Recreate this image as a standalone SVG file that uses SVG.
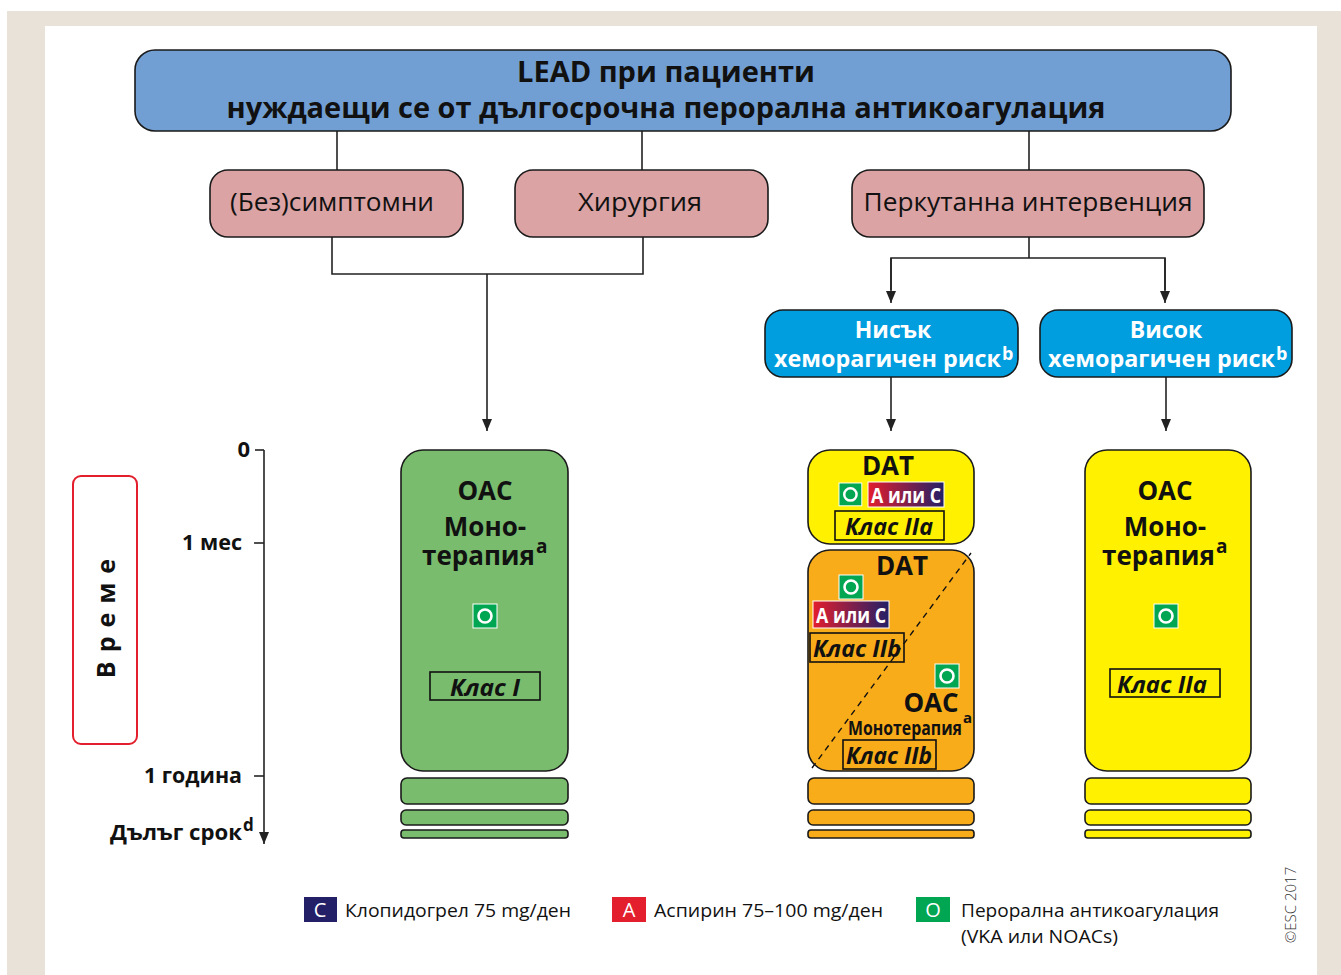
<svg xmlns="http://www.w3.org/2000/svg" width="1341" height="975" viewBox="0 0 1341 975">
<defs>
<style>
.t{font-family:"Open Sans","Liberation Sans",sans-serif;}
.b{font-weight:bold;}
.box{stroke:#1a1a1a;stroke-width:1.6;}
.ln{stroke:#222;stroke-width:1.6;fill:none;}
.cls{fill:none;stroke:#111;stroke-width:1.6;}
.ci{font-family:"Open Sans","Liberation Sans",sans-serif;font-weight:bold;font-style:italic;font-size:24px;}
.lg{font-family:"Open Sans","Liberation Sans",sans-serif;font-size:19px;fill:#111;}
</style>
<marker id="ar" viewBox="0 0 12 10" refX="12" refY="5" markerWidth="12" markerHeight="10" markerUnits="userSpaceOnUse" orient="auto">
<path d="M0,0 L12,5 L0,10 Z" fill="#222"/>
</marker>
<linearGradient id="ac" x1="0" x2="1" y1="0" y2="0">
<stop offset="0" stop-color="#E31E2D"/>
<stop offset="1" stop-color="#232067"/>
</linearGradient>
<g id="oicon">
<rect x="0" y="0" width="24" height="24" fill="#00A651" stroke="#fff" stroke-width="1"/>
<circle cx="12" cy="12" r="6.5" fill="none" stroke="#fff" stroke-width="2.6"/>
</g>
</defs>
<rect x="0" y="0" width="1341" height="975" fill="#fff"/>
<rect x="7" y="11" width="1334" height="964" fill="#E8E2D8"/>
<rect x="45" y="26" width="1272" height="949" fill="#fff"/>

<g id="connectors">
<line class="ln" x1="337" y1="131" x2="337" y2="170"/>
<line class="ln" x1="642" y1="131" x2="642" y2="170"/>
<line class="ln" x1="1029" y1="131" x2="1029" y2="170"/>
<polyline class="ln" points="332,237 332,274 643,274 643,237"/>
<line class="ln" x1="487" y1="274" x2="487" y2="431" marker-end="url(#ar)"/>
<line class="ln" x1="1029" y1="237" x2="1029" y2="258"/>
<polyline class="ln" points="891,290 891,258 1165,258 1165,290"/>
<line class="ln" x1="891" y1="258" x2="891" y2="303" marker-end="url(#ar)"/>
<line class="ln" x1="1165" y1="258" x2="1165" y2="303" marker-end="url(#ar)"/>
<line class="ln" x1="891" y1="377" x2="891" y2="431" marker-end="url(#ar)"/>
<line class="ln" x1="1166" y1="377" x2="1166" y2="431" marker-end="url(#ar)"/>
</g>

<g id="top">
<rect class="box" x="135" y="50" width="1096" height="81" rx="20" fill="#729FD3"/>
<text class="t b" x="666" y="82" font-size="29" text-anchor="middle" fill="#111" textLength="298" lengthAdjust="spacingAndGlyphs">LEAD при пациенти</text>
<text class="t b" x="666" y="118" font-size="29" text-anchor="middle" fill="#111" textLength="879" lengthAdjust="spacingAndGlyphs">нуждаещи се от дългосрочна перорална антикоагулация</text>
</g>

<g id="asym">
<rect class="box" x="210" y="170" width="253" height="67" rx="18" fill="#DCA3A4"/>
<text class="t" x="332" y="211" font-size="26" text-anchor="middle" fill="#111" textLength="204" lengthAdjust="spacingAndGlyphs">(Без)симптомни</text>
</g>
<g id="surg">
<rect class="box" x="515" y="170" width="253" height="67" rx="18" fill="#DCA3A4"/>
<text class="t" x="640" y="211" font-size="26" text-anchor="middle" fill="#111" textLength="124" lengthAdjust="spacingAndGlyphs">Хирургия</text>
</g>
<g id="perc">
<rect class="box" x="852" y="170" width="352" height="67" rx="18" fill="#DCA3A4"/>
<text class="t" x="1028" y="211" font-size="26" text-anchor="middle" fill="#111" textLength="329" lengthAdjust="spacingAndGlyphs">Перкутанна интервенция</text>
</g>

<g id="low">
<rect class="box" x="765" y="310" width="253" height="67" rx="18" fill="#009DDF"/>
<text class="t b" x="893" y="338" font-size="23" text-anchor="middle" fill="#fff">Нисък</text>
<text class="t b" x="774" y="367" font-size="23" fill="#fff" textLength="227" lengthAdjust="spacingAndGlyphs">хеморагичен риск</text>
<text class="t b" x="1002" y="360" font-size="18" fill="#fff">b</text>
</g>
<g id="high">
<rect class="box" x="1040" y="310" width="252" height="67" rx="18" fill="#009DDF"/>
<text class="t b" x="1166" y="338" font-size="23" text-anchor="middle" fill="#fff">Висок</text>
<text class="t b" x="1048" y="367" font-size="23" fill="#fff" textLength="227" lengthAdjust="spacingAndGlyphs">хеморагичен риск</text>
<text class="t b" x="1276" y="360" font-size="18" fill="#fff">b</text>
</g>

<g id="axis">
<line class="ln" x1="264" y1="450" x2="264" y2="844" marker-end="url(#ar)"/>
<line class="ln" x1="255" y1="450" x2="264" y2="450"/>
<line class="ln" x1="254" y1="543" x2="264" y2="543"/>
<line class="ln" x1="254" y1="776" x2="264" y2="776"/>
<text class="t b" x="250" y="457" font-size="22" text-anchor="end" fill="#111">0</text>
<text class="t b" x="242" y="550" font-size="22" text-anchor="end" fill="#111" textLength="60" lengthAdjust="spacingAndGlyphs">1 мес</text>
<text class="t b" x="242" y="783" font-size="22" text-anchor="end" fill="#111" textLength="98" lengthAdjust="spacingAndGlyphs">1 година</text>
<text class="t b" x="110" y="840" font-size="22" fill="#111" textLength="132" lengthAdjust="spacingAndGlyphs">Дълъг срок</text>
<text class="t b" x="243" y="831" font-size="17" fill="#111">d</text>
</g>
<g id="time">
<rect x="73" y="476" width="64" height="268" rx="8" fill="#fff" stroke="#E31E2D" stroke-width="2"/>
<text class="t b" transform="translate(115,614) rotate(-90)" font-size="25" text-anchor="middle" fill="#111" letter-spacing="9">Време</text>
</g>

<g id="oac-green">
<rect class="box" x="401" y="450" width="167" height="321" rx="22" fill="#79BC6E"/>
<rect class="box" x="401" y="778" width="167" height="26" rx="6" fill="#79BC6E"/>
<rect class="box" x="401" y="810" width="167" height="15" rx="5" fill="#79BC6E"/>
<rect class="box" x="401" y="830" width="167" height="8" rx="3" fill="#79BC6E"/>
<text class="t b" x="485" y="500" font-size="26" text-anchor="middle" fill="#111">OAC</text>
<text class="t b" x="485" y="536" font-size="26" text-anchor="middle" fill="#111">Моно-</text>
<text class="t b" x="422" y="565" font-size="26" fill="#111" textLength="113" lengthAdjust="spacingAndGlyphs">терапия</text>
<text class="t b" x="536" y="553" font-size="19" fill="#111">a</text>
<use href="#oicon" x="473" y="604"/>
<rect class="cls" x="430" y="672" width="110" height="28"/>
<text class="ci" x="485" y="696" text-anchor="middle" fill="#111" textLength="70" lengthAdjust="spacingAndGlyphs">Клас I</text>
</g>

<g id="dat-yellow">
<rect class="box" x="808" y="450" width="166" height="94" rx="22" fill="#FFF100"/>
<text class="t b" x="888" y="475" font-size="26" text-anchor="middle" fill="#111">DAT</text>
<use href="#oicon" transform="translate(839,483) scale(0.95)"/>
<rect x="868" y="482" width="76" height="25" fill="url(#ac)" stroke="#fff" stroke-width="1"/>
<text class="t b" x="906" y="503" font-size="22" text-anchor="middle" fill="#fff" textLength="70" lengthAdjust="spacingAndGlyphs">A или C</text>
<rect class="cls" x="835" y="511" width="109" height="29"/>
<text class="ci" x="889" y="535" text-anchor="middle" fill="#111" textLength="88" lengthAdjust="spacingAndGlyphs">Клас IIa</text>
</g>

<g id="dat-orange">
<rect class="box" x="808" y="550" width="166" height="221" rx="22" fill="#F9AC1A"/>
<rect class="box" x="808" y="778" width="166" height="26" rx="6" fill="#F9AC1A"/>
<rect class="box" x="808" y="810" width="166" height="15" rx="5" fill="#F9AC1A"/>
<rect class="box" x="808" y="830" width="166" height="8" rx="3" fill="#F9AC1A"/>
<line x1="812" y1="768" x2="971" y2="553" stroke="#111" stroke-width="1.4" stroke-dasharray="6,5"/>
<text class="t b" x="902" y="575" font-size="26" text-anchor="middle" fill="#111">DAT</text>
<use href="#oicon" x="839" y="575"/>
<rect x="813" y="601" width="76" height="27" fill="url(#ac)" stroke="#fff" stroke-width="1"/>
<text class="t b" x="851" y="623" font-size="22" text-anchor="middle" fill="#fff" textLength="70" lengthAdjust="spacingAndGlyphs">A или C</text>
<rect class="cls" x="810" y="633" width="94" height="29"/>
<text class="ci" x="857" y="657" text-anchor="middle" fill="#111" textLength="88" lengthAdjust="spacingAndGlyphs">Клас IIb</text>
<use href="#oicon" x="935" y="664"/>
<text class="t b" x="931" y="712" font-size="26" text-anchor="middle" fill="#111">OAC</text>
<text class="t b" x="848" y="735" font-size="20" fill="#111" textLength="114" lengthAdjust="spacingAndGlyphs">Монотерапия</text>
<text class="t b" x="963" y="723" font-size="15" fill="#111">a</text>
<rect class="cls" x="843" y="740" width="93" height="29"/>
<text class="ci" x="889" y="764" text-anchor="middle" fill="#111" textLength="86" lengthAdjust="spacingAndGlyphs">Клас IIb</text>
</g>

<g id="oac-yellow">
<rect class="box" x="1085" y="450" width="166" height="321" rx="22" fill="#FFF100"/>
<rect class="box" x="1085" y="778" width="166" height="26" rx="6" fill="#FFF100"/>
<rect class="box" x="1085" y="810" width="166" height="15" rx="5" fill="#FFF100"/>
<rect class="box" x="1085" y="830" width="166" height="8" rx="3" fill="#FFF100"/>
<text class="t b" x="1165" y="500" font-size="26" text-anchor="middle" fill="#111">OAC</text>
<text class="t b" x="1165" y="536" font-size="26" text-anchor="middle" fill="#111">Моно-</text>
<text class="t b" x="1102" y="565" font-size="26" fill="#111" textLength="113" lengthAdjust="spacingAndGlyphs">терапия</text>
<text class="t b" x="1216" y="553" font-size="19" fill="#111">a</text>
<use href="#oicon" x="1154" y="604"/>
<rect class="cls" x="1110" y="669" width="110" height="28"/>
<text class="ci" x="1162" y="693" text-anchor="middle" fill="#111" textLength="90" lengthAdjust="spacingAndGlyphs">Клас IIa</text>
</g>

<g id="legend">
<rect x="304" y="897" width="33" height="25" fill="#232067"/>
<text class="t" x="320" y="917" font-size="20" text-anchor="middle" fill="#fff">C</text>
<text class="lg" x="345" y="917" textLength="226" lengthAdjust="spacingAndGlyphs">Клопидогрел 75 mg/ден</text>
<rect x="612" y="897" width="34" height="25" fill="#E31E2D"/>
<text class="t" x="629" y="917" font-size="20" text-anchor="middle" fill="#fff">A</text>
<text class="lg" x="654" y="917" textLength="229" lengthAdjust="spacingAndGlyphs">Аспирин 75–100 mg/ден</text>
<rect x="916" y="897" width="34" height="25" fill="#00A651"/>
<text class="t" x="933" y="917" font-size="20" text-anchor="middle" fill="#fff">O</text>
<text class="lg" x="961" y="917" textLength="258" lengthAdjust="spacingAndGlyphs">Перорална антикоагулация</text>
<text class="lg" x="961" y="943" textLength="157" lengthAdjust="spacingAndGlyphs">(VKA или NOACs)</text>
<text class="t" transform="translate(1296,905) rotate(-90)" font-size="15" text-anchor="middle" fill="#333" font-weight="300">©ESC 2017</text>
</g>
</svg>
